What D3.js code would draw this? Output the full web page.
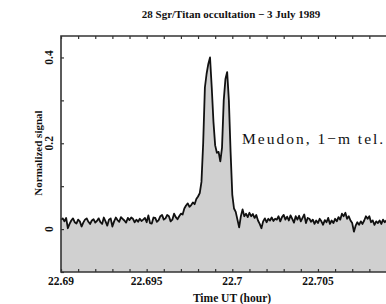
<!DOCTYPE html>
<html>
<head>
<meta charset="utf-8">
<script src="https://cdn.jsdelivr.net/npm/d3@7"></script>
<style>
  body { margin: 0; background: #fff; }
  svg { display: block; }
  .lbl { font-family: "Liberation Serif", serif; font-weight: bold; fill: #111; }
</style>
</head>
<body>
<div id="chart"></div>
<script>
// sampling of the light curve (hours UT)
const sampleStart = 22.69
const sampleStep = 0.0001

// normalized signal, one value per sample
const signal = [
  0.022, 0.025, 0.018, 0.026, 0.002, 0.012, 0.020, 0.025, 0.016, 0.013,
  0.022, 0.018, 0.006, 0.015, 0.022, 0.025, 0.017, 0.012, 0.020, 0.023,
  0.015, 0.019, 0.025, 0.016, 0.012, 0.027, 0.018, 0.008, 0.022, 0.025,
  0.006, 0.018, 0.027, 0.021, 0.017, 0.028, 0.024, 0.020, 0.015, 0.026,
  0.021, 0.027, 0.024, 0.016, 0.022, 0.017, 0.024, 0.019, 0.022, 0.026,
  0.016, 0.032, 0.014, 0.013, 0.027, 0.026, 0.017, 0.021, 0.030, 0.033,
  0.022, 0.025, 0.033, 0.030, 0.018, 0.022, 0.036, 0.028, 0.023, 0.030,
  0.036, 0.034, 0.048, 0.055, 0.060, 0.052, 0.056, 0.062, 0.058, 0.070,
  0.076, 0.084, 0.110, 0.200, 0.330, 0.362, 0.385, 0.400, 0.330, 0.250,
  0.195, 0.178, 0.180, 0.158, 0.190, 0.300, 0.350, 0.366, 0.300, 0.180,
  0.080, 0.048, 0.040, 0.022, 0.004, 0.030, 0.046, 0.030, 0.036, 0.028,
  0.038, 0.030, 0.035, 0.026, 0.033, 0.020, 0.012, 0.002, 0.018, 0.025,
  0.016, 0.024, 0.020, 0.027, 0.019, 0.024, 0.022, 0.030, 0.018, 0.028,
  0.033, 0.022, 0.029, 0.020, 0.032, 0.024, 0.015, 0.030, 0.022, 0.031,
  0.018, 0.026, 0.034, 0.014, 0.026, 0.024, 0.017, 0.022, 0.012, 0.020,
  0.014, 0.024, 0.018, 0.010, 0.021, 0.016, 0.026, 0.012, 0.020, 0.014,
  0.024, 0.018, 0.028, 0.022, 0.036, 0.030, 0.038, 0.024, 0.030, 0.020,
  0.014, -0.006, 0.008, 0.016, 0.010, 0.018, 0.012, 0.020, 0.030, 0.024,
  0.030, 0.016, 0.020, 0.010, 0.018, 0.014, 0.020, 0.012, 0.022, 0.016,
  0.020, 0.018, 0.024, 0.014, 0.020, 0.026, 0.016, 0.022, 0.018, 0.024,
  0.020
]

const xTicks = [22.69, 22.695, 22.7, 22.705]
const xTickLabels = ['22.69', '22.695', '22.7', '22.705']
const yTicks = [0, 0.2, 0.4]
const yTickLabels = ['0', '0.2', '0.4']

const titleText = '28 Sgr/Titan occultation \u2212 3 July 1989'
const xTitle = 'Time UT (hour)'
const yTitle = 'Normalized signal'
const note = 'Meudon, 1\u2212m tel.'

const width = 386, height = 304
const margin = { top: 36, left: 61, bottom: 32 }
const plotRight = 403.6

const svg = d3.select('#chart').append('svg')
  .attr('width', width)
  .attr('height', height)

const x = d3.scaleLinear().domain([22.69, 22.71]).range([margin.left, plotRight])
const y = d3.scaleLinear().domain([-0.1, 0.45]).range([height - margin.bottom, margin.top])

const data = signal.map((v, i) => ({ t: sampleStart + i * sampleStep, v: v }))

// filled light curve
svg.append('path')
  .datum(data)
  .attr('fill', '#d0d0d0')
  .attr('d', d3.area().x(d => x(d.t)).y0(y(-0.1)).y1(d => y(d.v)))

svg.append('path')
  .datum(data)
  .attr('fill', 'none')
  .attr('stroke', '#111')
  .attr('stroke-width', 1.8)
  .attr('stroke-linejoin', 'round')
  .attr('d', d3.line().x(d => x(d.t)).y(d => y(d.v)))

// minor tick positions
const xMinor = d3.range(0, 21).map(i => 22.69 + i * 0.001)
const yMinor = [-0.1, 0.1, 0.3]

function styleAxis(g) {
  g.select('.domain').remove()
  g.selectAll('line').attr('stroke', '#333').attr('stroke-width', 1.2)
  g.selectAll('text').remove()
}

svg.append('g')
  .attr('transform', 'translate(0,' + y(-0.1) + ')')
  .call(d3.axisBottom(x).tickValues(xMinor).tickSize(-3))
  .call(styleAxis)

svg.append('g')
  .attr('transform', 'translate(0,' + margin.top + ')')
  .call(d3.axisTop(x).tickValues(xMinor).tickSize(-3))
  .call(styleAxis)

svg.append('g')
  .attr('transform', 'translate(' + margin.left + ',0)')
  .call(d3.axisLeft(y).tickValues(yTicks.concat(yMinor)).tickSize(-3))
  .call(styleAxis)

// frame
svg.append('path')
  .attr('fill', 'none')
  .attr('stroke', '#333')
  .attr('stroke-width', 1.6)
  .attr('d', 'M' + plotRight + ',' + margin.top + 'H' + margin.left + 'V' + y(-0.1) + 'H' + plotRight)

// tick labels
svg.append('g').selectAll('text')
  .data(xTicks)
  .enter().append('text')
  .attr('class', 'lbl')
  .attr('x', d => x(d))
  .attr('y', 285)
  .attr('text-anchor', 'middle')
  .style('font-size', '11.5px')
  .text((d, i) => xTickLabels[i])

svg.append('g').selectAll('text')
  .data(yTicks)
  .enter().append('text')
  .attr('class', 'lbl')
  .attr('transform', d => 'translate(53,' + y(d) + ') rotate(-90)')
  .attr('text-anchor', 'middle')
  .style('font-size', '11.5px')
  .text((d, i) => yTickLabels[i])

// titles
svg.append('text')
  .attr('class', 'lbl')
  .attr('x', 231)
  .attr('y', 18)
  .attr('text-anchor', 'middle')
  .style('font-size', '11px')
  .text(titleText)

svg.append('text')
  .attr('class', 'lbl')
  .attr('x', 232)
  .attr('y', 302)
  .attr('text-anchor', 'middle')
  .style('font-size', '11.5px')
  .text(xTitle)

svg.append('text')
  .attr('class', 'lbl')
  .attr('transform', 'translate(42,153) rotate(-90)')
  .attr('text-anchor', 'middle')
  .style('font-size', '11px')
  .text(yTitle)

svg.append('text')
  .attr('x', 242)
  .attr('y', 144)
  .style('font-family', '"Liberation Serif", serif')
  .style('font-size', '15.5px')
  .style('letter-spacing', '2px')
  .attr('fill', '#111')
  .text(note)
</script>
</body>
</html>
